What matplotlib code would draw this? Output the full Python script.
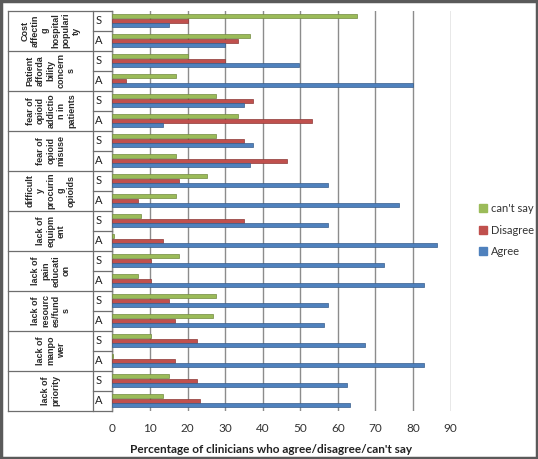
import matplotlib
matplotlib.use("Agg")
import matplotlib.pyplot as plt
import matplotlib.transforms as mtransforms
from matplotlib.lines import Line2D
from matplotlib.patches import Rectangle
import numpy as np

plt.rcParams['font.family'] = ['Lato', 'DejaVu Sans']

# ---- data (top to bottom) ----
categories = [
    "Cost\naffectin\ng\nhospital\npopulari\nty",
    "Patient\nafforda\nbility\nconcern\ns",
    "fear of\nopioid\naddictio\nn in\npatients",
    "fear of\nopioid\nmisuse",
    "difficult\ny\nprocurin\ng\nopioids",
    "lack of\nequipm\nent",
    "lack of\npain\neducati\non",
    "lack of\nresourc\nes/fund\ns",
    "lack of\nmanpo\nwer",
    "lack of\npriority",
]
subgroups = ["S", "A"]
series_names = ["can't say", "Disagree", "Agree"]

# values per subgroup row, order: Cost S, Cost A, Patient S, Patient A, ...
cant_say = [65, 36.6, 20, 16.9, 27.5, 33.3, 27.5, 16.9, 25.1, 16.9,
            7.7, 0.4, 17.7, 6.9, 27.5, 26.7, 10.2, 0.3, 15.1, 13.5]
disagree = [20, 33.3, 30, 3.6, 37.4, 53.1, 35, 46.5, 17.7, 6.9,
            35, 13.5, 10.2, 10.2, 15.1, 16.8, 22.5, 16.8, 22.5, 23.3]
agree = [15.1, 30, 49.7, 80, 35, 13.5, 37.4, 36.6, 57.3, 76.3,
         57.3, 86.3, 72.3, 83, 57.3, 56.4, 67.3, 82.9, 62.3, 63.1]
x_ticks = [0, 10, 20, 30, 40, 50, 60, 70, 80, 90]
x_label = "Percentage of clinicians who agree/disagree/can't say"

colors = {"can't say": "#9BBB59", "Disagree": "#C0504D", "Agree": "#4F81BD"}
edges = {"can't say": "#71893F", "Disagree": "#8C3836", "Agree": "#385D8A"}

W, H = 538, 459
fig = plt.figure(figsize=(W / 100, H / 100), dpi=100)
fig.patch.set_facecolor("white")

left_px, right_px, top_px, bot_px = 112.3, 450.7, 10.7, 410.7
ax = fig.add_axes([left_px / W, 1 - bot_px / H, (right_px - left_px) / W, (bot_px - top_px) / H])

n_rows = len(cant_say)
pos = np.arange(n_rows)
bh = 0.23
for k, (name, vals) in enumerate(zip(series_names, [cant_say, disagree, agree])):
    ax.barh(pos + (k - 1) * bh, vals, height=bh * 0.95, color=colors[name],
            edgecolor=edges[name], linewidth=0.5, label=name, zorder=3)

ax.set_xlim(0, 90)
ax.set_ylim(n_rows - 0.5, -0.5)
ax.set_xticks(x_ticks)
ax.set_xticklabels([str(t) for t in x_ticks], fontsize=8.5, color="#333333")
ax.set_yticks([])
ax.tick_params(axis="x", length=0, pad=9)
ax.grid(axis="x", color="#8C8C8C", linewidth=1.0, zorder=0)
for s in ["top", "right", "bottom"]:
    ax.spines[s].set_visible(False)
ax.spines["left"].set_color("#8C8C8C")
ax.spines["left"].set_linewidth(1.0)
ax.set_xlabel(x_label, fontsize=8.5, fontweight="bold", color="#222222")
ax.xaxis.set_label_coords((271 - left_px) / (right_px - left_px), (bot_px - 444) / (bot_px - top_px),
                          transform=ax.transAxes)

# ---- left label table ----
trans = mtransforms.blended_transform_factory(fig.transFigure, ax.transData)
x_tab_left = 8.3 / W
x_tab_mid = 93.3 / W
x_axis = left_px / W
line_c = "#6E6E6E"
n_cat = len(categories)
for c in range(n_cat + 1):
    yb = 2 * c - 0.5
    fig.add_artist(Line2D([x_tab_left, x_axis], [yb, yb], transform=trans, color=line_c, lw=0.9))
for c in range(n_cat):
    ym = 2 * c + 0.5
    fig.add_artist(Line2D([x_tab_mid, x_axis], [ym, ym], transform=trans, color=line_c, lw=0.9))
fig.add_artist(Line2D([x_tab_left, x_tab_left], [-0.5, n_rows - 0.5], transform=trans, color=line_c, lw=0.9))
fig.add_artist(Line2D([x_tab_mid, x_tab_mid], [-0.5, n_rows - 0.5], transform=trans, color=line_c, lw=0.9))

for c, cat in enumerate(categories):
    fig.text((x_tab_left + x_tab_mid) / 2, 2 * c + 0.5, cat, transform=trans, rotation=90,
             ha="center", va="center", multialignment="center", fontsize=6.5,
             family=["Liberation Sans", "DejaVu Sans"], fontweight="bold",
             linespacing=1.2, color="#2A2A2A")
    for j, sg in enumerate(subgroups):
        fig.text(99 / W, 2 * c + j, sg, transform=trans, ha="center", va="center",
                 fontsize=8, color="#222222")

# ---- legend ----
handles = [Rectangle((0, 0), 1, 1, color=colors[n]) for n in series_names]
leg = fig.legend(handles, series_names, loc="center left", bbox_to_anchor=(479 / W, 1 - 230 / H),
                 frameon=False, fontsize=8, handlelength=0.7, handleheight=0.7,
                 handletextpad=0.4, labelspacing=0.95, borderpad=0, borderaxespad=0)
for t in leg.get_texts():
    t.set_color("#333333")

# ---- outer frame ----
fig.add_artist(Rectangle((0.002, 0.002), 0.996, 0.996, transform=fig.transFigure,
                         fill=False, edgecolor="#5A5A5A", linewidth=2.5))

fig.savefig("out.png", dpi=100)
